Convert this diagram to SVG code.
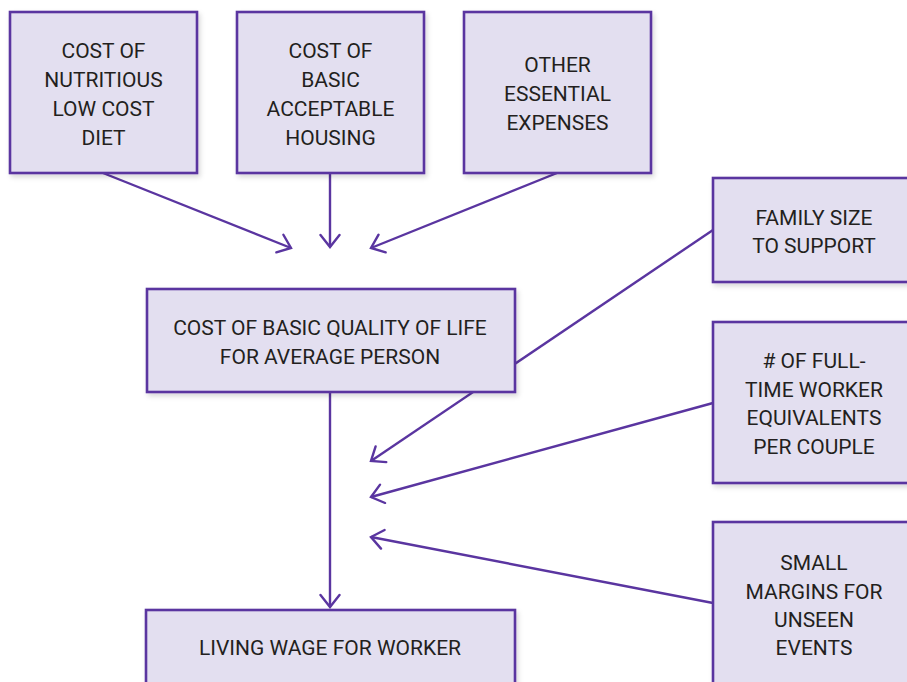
<svg xmlns="http://www.w3.org/2000/svg" width="907" height="682" viewBox="0 0 907 682">
<style>
.box{fill:#e3dff0;stroke:#5a35a0;stroke-width:2.6;filter:url(#sh)}
.t{font-family:Roboto,"Liberation Sans",sans-serif;font-size:21px;font-weight:400;fill:#231f20;text-anchor:middle}
.c{fill:none;stroke:#5a35a0;stroke-width:2.4}
</style>
<defs>
<filter id="sh" x="-10%" y="-10%" width="130%" height="140%">
<feDropShadow dx="2" dy="3" stdDeviation="2.5" flood-color="#000" flood-opacity="0.15"/>
</filter>
<marker id="ah" markerUnits="userSpaceOnUse" markerWidth="18" markerHeight="24" refX="14" refY="11" orient="auto" viewBox="0 0 18 24">
<path d="M2,1.5 L14,11 L2,20.5" fill="none" stroke="#5a35a0" stroke-width="2.4" stroke-linecap="round" stroke-linejoin="miter"/>
</marker>
</defs>
<g id="connectors">
<line class="c" x1="103" y1="173" x2="291" y2="248" marker-end="url(#ah)"/>
<line class="c" x1="330" y1="173" x2="330" y2="247" marker-end="url(#ah)"/>
<line class="c" x1="557" y1="173" x2="371" y2="248" marker-end="url(#ah)"/>
<line class="c" x1="713" y1="230" x2="371" y2="461" marker-end="url(#ah)"/>
<line class="c" x1="713" y1="403" x2="371" y2="497" marker-end="url(#ah)"/>
<line class="c" x1="713" y1="603" x2="371" y2="537" marker-end="url(#ah)"/>
<line class="c" x1="330" y1="392" x2="330" y2="607" marker-end="url(#ah)"/>
</g>
<g id="n1"><rect class="box" x="10" y="12" width="187" height="161"/>
<text class="t" x="103.5" y="58">COST OF</text><text class="t" x="103.5" y="87">NUTRITIOUS</text><text class="t" x="103.5" y="116">LOW COST</text><text class="t" x="103.5" y="145">DIET</text></g>
<g id="n2"><rect class="box" x="237" y="12" width="187" height="161"/>
<text class="t" x="330.5" y="58">COST OF</text><text class="t" x="330.5" y="87">BASIC</text><text class="t" x="330.5" y="116">ACCEPTABLE</text><text class="t" x="330.5" y="145">HOUSING</text></g>
<g id="n3"><rect class="box" x="464" y="12" width="187" height="161"/>
<text class="t" x="557.5" y="72">OTHER</text><text class="t" x="557.5" y="101">ESSENTIAL</text><text class="t" x="557.5" y="130">EXPENSES</text></g>
<g id="n4"><rect class="box" x="713" y="178" width="200" height="104"/>
<text class="t" x="814" y="225">FAMILY SIZE</text><text class="t" x="814" y="253">TO SUPPORT</text></g>
<g id="n5"><rect class="box" x="147" y="289" width="368" height="103"/>
<text class="t" x="330" y="335">COST OF BASIC QUALITY OF LIFE</text><text class="t" x="330" y="364">FOR AVERAGE PERSON</text></g>
<g id="n6"><rect class="box" x="713" y="322" width="200" height="161"/>
<text class="t" x="814" y="368">#&#160;OF FULL-</text><text class="t" x="814" y="397">TIME WORKER</text><text class="t" x="814" y="425">EQUIVALENTS</text><text class="t" x="814" y="454">PER COUPLE</text></g>
<g id="n7"><rect class="box" x="713" y="522" width="200" height="170"/>
<text class="t" x="814" y="570">SMALL</text><text class="t" x="814" y="599">MARGINS FOR</text><text class="t" x="814" y="627">UNSEEN</text><text class="t" x="814" y="655">EVENTS</text></g>
<g id="n8"><rect class="box" x="146" y="610" width="369" height="82"/>
<text class="t" x="330" y="655">LIVING WAGE FOR WORKER</text></g>
</svg>
